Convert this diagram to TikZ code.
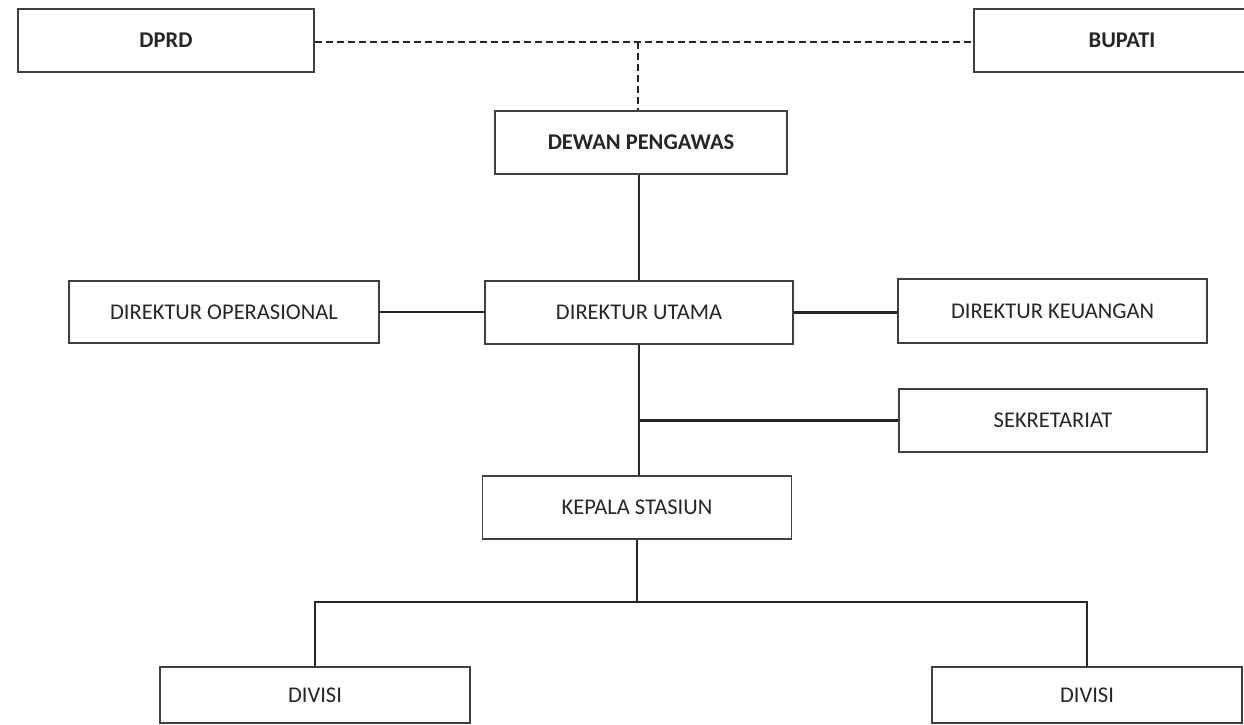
\documentclass[tikz,border=0pt]{standalone}
\usepackage{fontspec}
\setmainfont{Carlito}
\begin{document}
\begin{tikzpicture}[x=1pt,y=-1pt,
  box/.style={draw=black!75, line width=1.8pt, fill=white, inner sep=0pt,
    font=\fontsize{22.5}{26}\selectfont, text=black!85, anchor=center},
  bbox/.style={box, font=\fontsize{22.5}{26}\selectfont\bfseries},
  link/.style={draw=black!85, line width=2.2pt},
  dlink/.style={link, dash pattern=on 7pt off 4pt}]
\useasboundingbox (0,0) rectangle (1244,724);
\node[bbox, minimum width=296pt, minimum height=63pt] (dprd) at (166,40.5) {DPRD};
\node[bbox, minimum width=296pt, minimum height=63pt] (bupati) at (1122,40.5) {BUPATI};
\node[bbox, minimum width=292pt, minimum height=63pt] (dewan) at (641,142.5) {DEWAN PENGAWAS};
\node[box, minimum width=308pt, minimum height=63pt] (du) at (639,312.5) {DIREKTUR UTAMA};
\node[box, minimum width=310pt, minimum height=62pt] (do) at (224,312) {DIREKTUR OPERASIONAL};
\node[box, minimum width=309pt, minimum height=64pt] (dk) at (1052.5,311) {DIREKTUR KEUANGAN};
\node[box, minimum width=308pt, minimum height=63pt] (sek) at (1053,420.5) {SEKRETARIAT};
\node[box, minimum width=309pt, minimum height=63pt] (ks) at (637,507.5) {KEPALA STASIUN};
\node[box, minimum width=310pt, minimum height=56pt] (div1) at (315,695) {DIVISI};
\node[box, minimum width=310pt, minimum height=56pt] (div2) at (1087,695) {DIVISI};
\coordinate (hub) at (637,602);
\coordinate (topj) at (638,42);
% connectors
\draw[dlink] (dprd.east |- topj) -- (bupati.west |- topj);
\draw[dlink] (topj) -- (topj |- dewan.north);
\draw[link] (dewan.south -| du.north) -- (du.north);
\draw[link] (do.east) -- (du.west |- do.east);
\draw[link] (du.east) -- (dk.west |- du.east);
\draw[link] (du.south) -- (ks.north -| du.south);
\draw[link] (sek.west) -- (sek.west -| du.south);
\draw[link] (ks.south) -- (hub);
\draw[link] (div1.north) -- (div1.north |- hub) -- (div2.north |- hub) -- (div2.north);
\end{tikzpicture}
\end{document}
